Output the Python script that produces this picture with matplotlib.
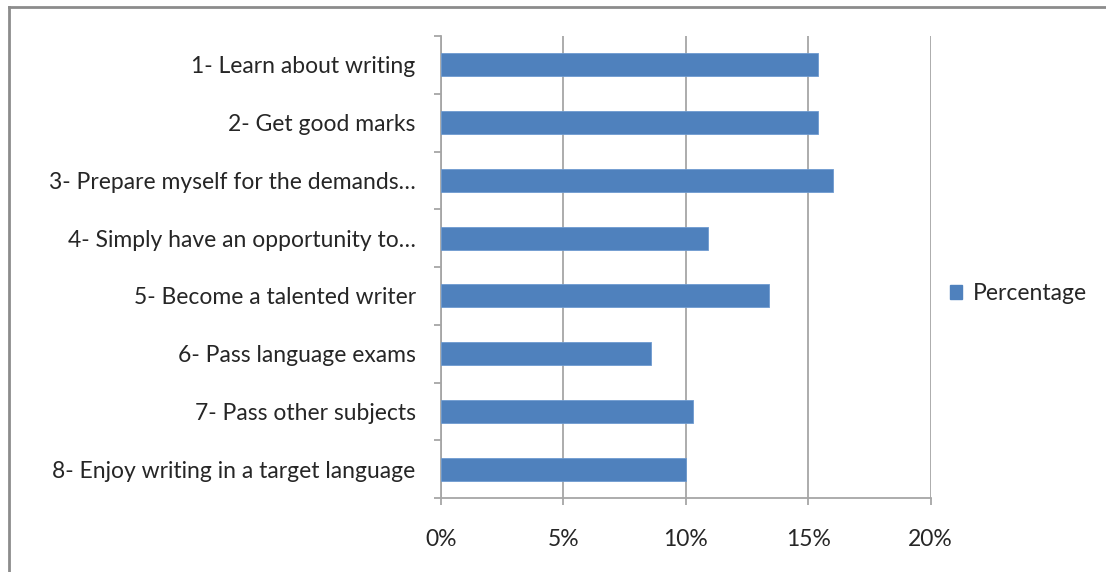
import matplotlib
matplotlib.use("Agg")
import matplotlib.pyplot as plt
from matplotlib.lines import Line2D
from matplotlib.patches import Patch
from matplotlib.ticker import PercentFormatter

categories = [
    "1- Learn about writing",
    "2- Get good marks",
    "3- Prepare myself for the demands\u2026",
    "4- Simply have an opportunity to\u2026",
    "5- Become a talented writer",
    "6- Pass language exams",
    "7- Pass other subjects",
    "8- Enjoy writing in a target language",
]
percentage = [15.4, 15.4, 16.0, 10.9, 13.4, 8.6, 10.3, 10.0]
x_ticks = [0, 5, 10, 15, 20]
series_name = "Percentage"

bar_color = "#4F81BD"
grid_color = "#A6A6A6"
text_color = "#262626"
font_size = 16.5

plt.rcParams["font.family"] = ["Lato", "DejaVu Sans"]

W, H = 1106, 572
fig = plt.figure(figsize=(W / 100, H / 100), dpi=100)
fig.patch.set_facecolor("white")
ax = fig.add_axes([440.7 / W, 1 - 498 / H, (930.7 - 440.7) / W, (498 - 36) / H])

pos = list(range(len(categories)))
ax.barh(pos, percentage, height=0.4, color=bar_color, edgecolor="#6E9BD0",
        linewidth=0.6, zorder=3)

ax.set_ylim(len(categories) - 0.5, -0.5)
ax.set_xlim(0, 20)
ax.set_xticks(x_ticks)
ax.xaxis.set_major_formatter(PercentFormatter(decimals=0))
ax.set_yticks(pos)
ax.set_yticklabels(categories)
ax.set_yticks([p - 0.5 for p in pos] + [len(categories) - 0.5], minor=True)

ax.grid(axis="x", color=grid_color, linewidth=1.3, zorder=0)
for side in ("top", "right"):
    ax.spines[side].set_visible(False)
for side in ("left", "bottom"):
    ax.spines[side].set_color(grid_color)
    ax.spines[side].set_linewidth(1.3)

ax.tick_params(axis="y", which="major", length=0, pad=18, labelsize=font_size,
               labelcolor=text_color)
ax.tick_params(axis="y", which="minor", length=5, width=1.3, color=grid_color,
               direction="out")
ax.tick_params(axis="x", which="major", length=5, width=1.3, color=grid_color,
               pad=17, labelsize=font_size, labelcolor=text_color)

handle = Patch(facecolor=bar_color, edgecolor=bar_color)
fig.legend([handle], [series_name], loc="center left",
           bbox_to_anchor=(929 / W, 1 - 294 / H), frameon=False,
           fontsize=font_size, handlelength=0.55, handleheight=0.55,
           handletextpad=0.45, labelcolor=text_color)

# outer chart frame (top and left edges)
fig.add_artist(Line2D([9 / W, 9 / W], [0, 1 - 7 / H], transform=fig.transFigure,
                      color="#8C8C8C", linewidth=2))
fig.add_artist(Line2D([9 / W, 1], [1 - 7 / H, 1 - 7 / H], transform=fig.transFigure,
                      color="#8C8C8C", linewidth=2))

fig.savefig("out.png", dpi=100, facecolor="white")
